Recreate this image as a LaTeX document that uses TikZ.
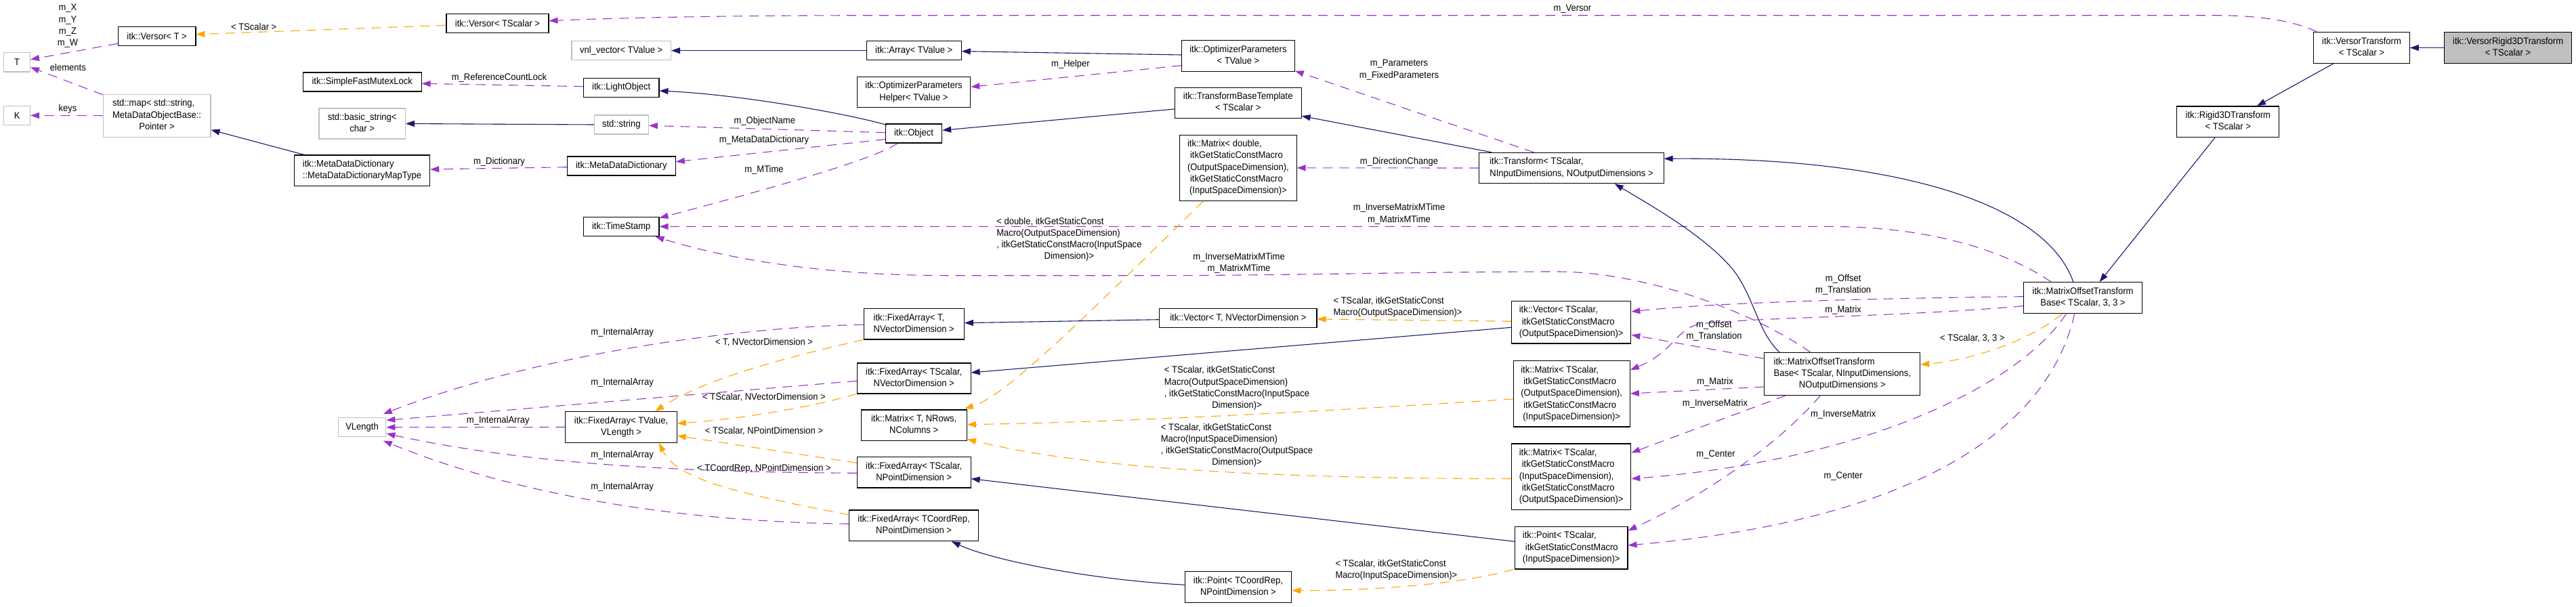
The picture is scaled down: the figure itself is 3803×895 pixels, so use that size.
\documentclass[tikz,border=0pt]{standalone}
\usepackage{fontspec}
\setmainfont{Liberation Sans}[FakeStretch=0.93]
\usetikzlibrary{arrows.meta}
\definecolor{dblue}{HTML}{191970}
\definecolor{dpurple}{HTML}{9A32CD}
\definecolor{dorange}{HTML}{FFA500}
\definecolor{grayL}{HTML}{BFBFBF}
\newcommand{\dxl}[2]{\begin{tabular}{@{}l@{}}#1\\\multicolumn{1}{@{}c@{}}{#2}\end{tabular}}
\tikzset{
  boxB/.style={draw=black, line width=1.1pt, fill=white, inner sep=0pt, rectangle, align=center},
  boxG/.style={boxB, draw=grayL},
  boxS/.style={boxB, fill=grayL},
  lbl/.style={inner sep=0pt, align=center},
  tipA/.style={-{Triangle[length=13pt,width=9pt]}},
  inhE/.style={draw=dblue, line width=1.1pt, tipA},
  useE/.style={draw=dpurple, line width=1.1pt, dash pattern=on 14pt off 10pt, tipA},
  tmplE/.style={draw=dorange, line width=1.1pt, dash pattern=on 14pt off 10pt, tipA},
}
\begin{document}
\begin{tikzpicture}[x=1pt, y=-1pt, every node/.style={font=\fontsize{14}{17.3}\selectfont}]
\useasboundingbox (0,0) rectangle (3803,895);
\fill[white] (0,0) rectangle (3803,895);

% ---------- nodes ----------
\node[boxG, minimum width=38.8pt, minimum height=28.3pt] (T) at (25.1,91.8) {T};
\node[boxG, minimum width=38.8pt, minimum height=27.7pt] (K) at (25.1,170.5) {K};
\node[boxB, minimum width=114.7pt, minimum height=28pt] (VersorT) at (231.6,53.3) {itk::Versor< T >};
\node[boxG, minimum width=158.8pt, minimum height=62.7pt] (map) at (231.6,170.7) {\dxl{std::map< std::string,\\MetaDataObjectBase::}{Pointer >}};
\node[boxB, minimum width=174.7pt, minimum height=28pt] (SFML) at (534.7,121) {itk::SimpleFastMutexLock};
\node[boxG, minimum width=127.4pt, minimum height=45pt] (bstr) at (534.7,182.5) {\dxl{std::basic\_string<}{char >}};
\node[boxB, minimum width=200.4pt, minimum height=45.7pt] (MapType) at (534.5,251.8) {\dxl{itk::MetaDataDictionary}{::MetaDataDictionaryMapType}};
\node[boxB, minimum width=151pt, minimum height=28pt] (VersorTS) at (734.5,34.7) {itk::Versor< TScalar >};
\node[boxG, minimum width=146.5pt, minimum height=28pt] (vnl) at (917.2,74.7) {vnl\_vector< TValue >};
\node[boxB, minimum width=111.5pt, minimum height=28.3pt] (LightObject) at (917.2,129.2) {itk::LightObject};
\node[boxG, minimum width=80pt, minimum height=28pt] (string) at (917.3,184) {std::string};
\node[boxB, minimum width=160pt, minimum height=28pt] (MDD) at (917.3,245) {itk::MetaDataDictionary};
\node[boxB, minimum width=111.5pt, minimum height=28pt] (TimeStamp) at (917.2,334.7) {itk::TimeStamp};
\node[boxB, minimum width=140pt, minimum height=28pt] (Array) at (1349.2,74.7) {itk::Array< TValue >};
\node[boxB, minimum width=167.4pt, minimum height=45.3pt] (OPHelper) at (1349,136) {\dxl{itk::OptimizerParameters}{Helper< TValue >}};
\node[boxB, minimum width=83.3pt, minimum height=28pt] (Object) at (1349,197) {itk::Object};
\node[boxB, minimum width=166.7pt, minimum height=45.7pt] (OP) at (1827.9,82.5) {\dxl{itk::OptimizerParameters}{< TValue >}};
\node[boxB, minimum width=186.7pt, minimum height=45pt] (TBT) at (1827.7,151.8) {\dxl{itk::TransformBaseTemplate}{< TScalar >}};
\node[boxB, minimum width=172.5pt, minimum height=97pt] (MatD) at (1827.9,247.8) {\dxl{itk::Matrix< double,\\\hspace*{4pt}itkGetStaticConstMacro\\(OutputSpaceDimension),\\\hspace*{4pt}itkGetStaticConstMacro}{(InputSpaceDimension)>}};
\node[boxB, minimum width=272.2pt, minimum height=45.3pt] (Transform) at (2320,248) {\dxl{itk::Transform< TScalar,}{NInputDimensions, NOutputDimensions >}};
\node[boxB, minimum width=175.2pt, minimum height=46pt] (MOTB33) at (3074.9,439.7) {\dxl{itk::MatrixOffsetTransform}{Base< TScalar, 3, 3 >}};
\node[boxB, minimum width=141.6pt, minimum height=45.6pt] (VT) at (3486.5,70.5) {\dxl{itk::VersorTransform}{< TScalar >}};
\node[boxS, minimum width=188.2pt, minimum height=45.6pt] (VR3D) at (3702.6,70.5) {\dxl{itk::VersorRigid3DTransform}{< TScalar >}};
\node[boxB, minimum width=151.2pt, minimum height=45.7pt] (R3D) at (3289.3,179.8) {\dxl{itk::Rigid3DTransform}{< TScalar >}};
\node[boxG, minimum width=70.6pt, minimum height=28pt] (VLength) at (534.5,630.7) {VLength};
\node[boxB, minimum width=164.5pt, minimum height=45.7pt] (FAV) at (917.1,630.5) {\dxl{itk::FixedArray< TValue,}{VLength >}};
\node[boxB, minimum width=148.2pt, minimum height=45.3pt] (FATN) at (1349.2,478.3) {\dxl{itk::FixedArray< T,}{NVectorDimension >}};
\node[boxB, minimum width=167.8pt, minimum height=45pt] (FASN) at (1349.2,558.5) {\dxl{itk::FixedArray< TScalar,}{NVectorDimension >}};
\node[boxB, minimum width=156.3pt, minimum height=45.7pt] (MatT) at (1349.2,627.8) {\dxl{itk::Matrix< T, NRows,}{NColumns >}};
\node[boxB, minimum width=167.8pt, minimum height=45.3pt] (FASP) at (1349.2,697.3) {\dxl{itk::FixedArray< TScalar,}{NPointDimension >}};
\node[boxB, minimum width=190.8pt, minimum height=45.7pt] (FACP) at (1349.1,775.8) {\dxl{itk::FixedArray< TCoordRep,}{NPointDimension >}};
\node[boxB, minimum width=232.1pt, minimum height=28.3pt] (VecT) at (1827.9,469.2) {itk::Vector< T, NVectorDimension >};
\node[boxB, minimum width=157.7pt, minimum height=46pt] (PtC) at (1827.9,866.7) {\dxl{itk::Point< TCoordRep,}{NPointDimension >}};
\node[boxB, minimum width=176.3pt, minimum height=62.3pt] (VecS) at (2319.7,475.8) {\dxl{itk::Vector< TScalar,\\\hspace*{4pt}itkGetStaticConstMacro}{(OutputSpaceDimension)>}};
\node[boxB, minimum width=172.2pt, minimum height=97.3pt] (MatSOI) at (2320.2,581.3) {\dxl{itk::Matrix< TScalar,\\\hspace*{4pt}itkGetStaticConstMacro\\(OutputSpaceDimension),\\\hspace*{4pt}itkGetStaticConstMacro}{(InputSpaceDimension)>}};
\node[boxB, minimum width=176.3pt, minimum height=97.7pt] (MatSIO) at (2319.7,703.8) {\dxl{itk::Matrix< TScalar,\\\hspace*{4pt}itkGetStaticConstMacro\\(InputSpaceDimension),\\\hspace*{4pt}itkGetStaticConstMacro}{(OutputSpaceDimension)>}};
\node[boxB, minimum width=166.5pt, minimum height=62.3pt] (PtS) at (2319.7,808.8) {\dxl{itk::Point< TScalar,\\\hspace*{4pt}itkGetStaticConstMacro}{(InputSpaceDimension)>}};
\node[boxB, minimum width=229.8pt, minimum height=62.7pt] (MOTBN) at (2719.8,552) {\dxl{itk::MatrixOffsetTransform\\Base< TScalar, NInputDimensions,}{NOutputDimensions >}};

% ---------- edges ----------
\draw[useE] ([shift={(0,11)}]VersorT.west) -- ([shift={(0,-4)}]T.east);
\draw[useE] ([shift={(0,1)}]map.north west) -- ([shift={(0,7.5)}]T.east);
\draw[useE] (map.west) -- (K.east);
\draw[inhE] ([shift={(-85.5,0)}]MapType.north) -- ([shift={(0,21)}]map.east);
\draw[tmplE] ([shift={(0,2.6)}]VersorTS.west) -- ([shift={(0,-2.6)}]VersorT.east);
\draw[useE] ([shift={(0,-1.5)}]LightObject.west) -- ([shift={(0,2.3)}]SFML.east);
\draw[inhE] (string.west) -- (bstr.east);
\draw[useE] ([shift={(0,1.7)}]MDD.west) -- ([shift={(0,-1.8)}]MapType.east);
\draw[inhE] (Array.west) -- (vnl.east);
\draw[inhE] ([shift={(0,-1.5)}]OP.west) -- ([shift={(0,1)}]Array.east);
\draw[useE] ([shift={(0,14.2)}]OP.west) -- ([shift={(0,-7.7)}]OPHelper.east);
\draw[inhE] ([shift={(0,9.2)}]TBT.west) -- ([shift={(0,-4.7)}]Object.east);
\draw[inhE] ([shift={(2,2)}]Object.north west) .. controls (1260,170) and (1100,140) .. ([shift={(0,4.8)}]LightObject.east);
\draw[useE] ([shift={(0,-1.3)}]Object.west) -- ([shift={(0,1.3)}]string.east);
\draw[useE] ([shift={(0,8.7)}]Object.west) -- ([shift={(0,-6.3)}]MDD.east);
\draw[useE] ([shift={(-23.7,0)}]Object.south) .. controls (1290,235) and (1150,275) .. ([shift={(0,-13)}]TimeStamp.east);
\draw[useE] ([shift={(-46.7,0)}]MOTB33.north) .. controls (2960,370) and (2850,334.4) .. (2700,334.4) -- ([shift={(0,-0.3)}]TimeStamp.east);
\draw[useE] ([shift={(-46.8,0)}]MOTBN.north) .. controls (2580,455) and (2420,401) .. (2298,401) .. controls (2100,401) and (1900,406.7) .. (1700,406.7) -- (1400,406.7) .. controls (1200,406.7) and (1060,378) .. ([shift={(-6,0)}]TimeStamp.south east);
\draw[tmplE] ([shift={(-51.6,0)}]MatD.south) .. controls (1560,510) and (1480,585) .. ([shift={(-4,-1)}]MatT.north east);
\draw[useE] ([shift={(-55.5,0)}]Transform.north) -- ([shift={(0,-1.3)}]OP.south east);
\draw[inhE] ([shift={(-117.9,0)}]Transform.north) -- ([shift={(0,-3.6)}]TBT.south east);
\draw[useE] (Transform.west) -- (MatD.east);
\draw[inhE] ([shift={(-14.1,0)}]MOTB33.north) .. controls (3020,300) and (2800,232) .. ([shift={(0,-13.7)}]Transform.east);
\draw[inhE] ([shift={(-92.5,0)}]MOTBN.north) .. controls (2595,490) and (2590,440) .. (2560,400) .. controls (2520,350) and (2440,305) .. ([shift={(63.7,0)}]Transform.south);
\draw[inhE] ([shift={(-19.4,0)}]R3D.south) -- ([shift={(24.7,0)}]MOTB33.north);
\draw[inhE] ([shift={(-41.7,0)}]VT.south) -- ([shift={(42.7,0)}]R3D.north);
\draw[inhE] (VR3D.west) -- (VT.east);
\draw[useE] ([shift={(-65.8,0)}]VT.north) .. controls (3390,32) and (3340,22.7) .. (3270,22.7) -- (1300,22.7) .. controls (1050,22.7) and (900,27) .. ([shift={(0,-4)}]VersorTS.east);
\draw[inhE] ([shift={(0,2.5)}]VecT.west) -- ([shift={(0,-1.6)}]FATN.east);
\draw[tmplE] ([shift={(0,-1.5)}]VecS.west) -- ([shift={(0,1.8)}]VecT.east);
\draw[inhE] ([shift={(0,7.5)}]VecS.west) -- ([shift={(0,-8.5)}]FASN.east);
\draw[tmplE] ([shift={(0,7.7)}]MatSOI.west) .. controls (2000,604) and (1700,622) .. ([shift={(0,-1.1)}]MatT.east);
\draw[tmplE] ([shift={(0,2.9)}]MatSIO.west) .. controls (1850,706) and (1600,690) .. ([shift={(0,20.5)}]MatT.east);
\draw[inhE] ([shift={(0,-9.5)}]PtS.west) -- ([shift={(0,9.4)}]FASP.east);
\draw[tmplE] ([shift={(-2,0)}]PtS.south west) .. controls (2150,865) and (2000,872) .. ([shift={(0,5)}]PtC.east);
\draw[inhE] ([shift={(0,-3.4)}]PtC.west) .. controls (1600,855) and (1460,825) .. ([shift={(55.8,0)}]FACP.south);
\draw[useE] ([shift={(0,1)}]FATN.west) .. controls (1100,482) and (800,520) .. ([shift={(-4.5,-5)}]VLength.north east);
\draw[useE] ([shift={(0,3.8)}]FASN.west) -- ([shift={(0,-10.4)}]VLength.east);
\draw[useE] (FAV.west) -- (VLength.east);
\draw[useE] ([shift={(0,1)}]FASP.west) .. controls (1050,697) and (800,690) .. ([shift={(0,9.3)}]VLength.east);
\draw[useE] ([shift={(0,-2.5)}]FACP.west) .. controls (1000,770) and (760,730) .. ([shift={(-4.5,5.3)}]VLength.south east);
\draw[tmplE] (FATN.south west) .. controls (1150,530) and (1040,560) .. ([shift={(50,0)}]FAV.north);
\draw[tmplE] (FASN.south west) .. controls (1200,600) and (1100,618) .. ([shift={(0,-5.5)}]FAV.east);
\draw[tmplE] ([shift={(0,-14)}]FASP.west) -- ([shift={(0,12.8)}]FAV.east);
\draw[tmplE] ([shift={(0,-15.8)}]FACP.west) .. controls (1100,730) and (1000,710) .. ([shift={(55.8,0)}]FAV.south);
\draw[tmplE] ([shift={(-30.4,0)}]MOTB33.south) .. controls (3000,500) and (2920,530) .. ([shift={(0,-13.7)}]MOTBN.east);
\draw[useE] ([shift={(0,-2)}]MOTB33.west) .. controls (2800,440) and (2550,445) .. ([shift={(0,-15.8)}]VecS.east);
\draw[useE] ([shift={(0,12)}]MOTB33.west) .. controls (2800,468) and (2600,468) .. (2510,478) .. controls (2475,485) and (2470,520) .. ([shift={(0,-35.3)}]MatSOI.east);
\draw[useE] ([shift={(-24.5,0)}]MOTB33.south) .. controls (2980,570) and (2750,680) .. ([shift={(0,2.9)}]MatSIO.east);
\draw[useE] ([shift={(-12.3,0)}]MOTB33.south) .. controls (3020,650) and (2800,770) .. ([shift={(0,-3.8)}]PtS.east);
\draw[useE] ([shift={(0,-22.7)}]MOTBN.west) -- ([shift={(0,18.5)}]VecS.east);
\draw[useE] ([shift={(0,19)}]MOTBN.west) -- ([shift={(0,-0.3)}]MatSOI.east);
\draw[useE] ([shift={(-83.5,0)}]MOTBN.south) -- ([shift={(0,-35.5)}]MatSIO.east);
\draw[useE] ([shift={(-32.5,0)}]MOTBN.south) .. controls (2640,640) and (2540,720) .. ([shift={(0,-25.5)}]PtS.east);

% ---------- labels ----------
\node[lbl] (l1) at (100,38.5) {m\_X\\m\_Y\\m\_Z\\m\_W};
\node[lbl] (l2) at (100.4,99.3) {elements};
\node[lbl] (l3) at (100,160.7) {keys};
\node[lbl] (l4) at (374.7,39) {< TScalar >};
\node[lbl] (l5) at (737,115.3) {m\_ReferenceCountLock};
\node[lbl] (l6) at (737,238.7) {m\_Dictionary};
\node[lbl] (l7) at (1128.8,178.7) {m\_ObjectName};
\node[lbl] (l8) at (1128,207.3) {m\_MetaDataDictionary};
\node[lbl] (l9) at (1128,251.3) {m\_MTime};
\node[lbl] (l10) at (1580.4,94.7) {m\_Helper};
\node[lbl] (l11) at (1578.4,353.5) {\dxl{< double, itkGetStaticConst\\Macro(OutputSpaceDimension)\\, itkGetStaticConstMacro(InputSpace}{Dimension)>}};
\node[lbl] (l12) at (1829,388) {m\_InverseMatrixMTime\\m\_MatrixMTime};
\node[lbl] (l13) at (2321.4,12.7) {m\_Versor};
\node[lbl] (l14) at (2065.5,103.2) {m\_Parameters\\m\_FixedParameters};
\node[lbl] (l15) at (2065.5,238.7) {m\_DirectionChange};
\node[lbl] (l16) at (2065.5,315.8) {m\_InverseMatrixMTime\\m\_MatrixMTime};
\node[lbl] (l17) at (2721.2,420.3) {m\_Offset\\m\_Translation};
\node[lbl] (l18) at (918.6,490.7) {m\_InternalArray};
\node[lbl] (l19) at (918.6,565) {m\_InternalArray};
\node[lbl] (l20) at (735.3,621) {m\_InternalArray};
\node[lbl] (l21) at (918.6,672.3) {m\_InternalArray};
\node[lbl] (l22) at (918.6,719.3) {m\_InternalArray};
\node[lbl] (l23) at (1128,505) {< T, NVectorDimension >};
\node[lbl] (l24) at (1128,586.7) {< TScalar, NVectorDimension >};
\node[lbl] (l25) at (1128,636.7) {< TScalar, NPointDimension >};
\node[lbl] (l26) at (1128,691.7) {< TCoordRep, NPointDimension >};
\node[lbl] (l27) at (1826,573.3) {\dxl{< TScalar, itkGetStaticConst\\Macro(OutputSpaceDimension)\\, itkGetStaticConstMacro(InputSpace}{Dimension)>}};
\node[lbl] (l28) at (1826,657.5) {\dxl{< TScalar, itkGetStaticConst\\Macro(InputSpaceDimension)\\, itkGetStaticConstMacro(OutputSpace}{Dimension)>}};
\node[lbl] (l29) at (2063.5,453.3) {\dxl{< TScalar, itkGetStaticConst}{Macro(OutputSpaceDimension)>}};
\node[lbl] (l30) at (2061.4,841.7) {\dxl{< TScalar, itkGetStaticConst}{Macro(InputSpaceDimension)>}};
\node[lbl] (l31) at (2530.5,488) {m\_Offset\\m\_Translation};
\node[lbl] (l32) at (2532,564) {m\_Matrix};
\node[lbl] (l33) at (2532,595.7) {m\_InverseMatrix};
\node[lbl] (l34) at (2533,671) {m\_Center};
\node[lbl] (l35) at (2721.2,458.3) {m\_Matrix};
\node[lbl] (l36) at (2721.2,611.7) {m\_InverseMatrix};
\node[lbl] (l37) at (2721.2,703.3) {m\_Center};
\node[lbl] (l38) at (2911.8,499) {< TScalar, 3, 3 >};
\end{tikzpicture}
\end{document}
